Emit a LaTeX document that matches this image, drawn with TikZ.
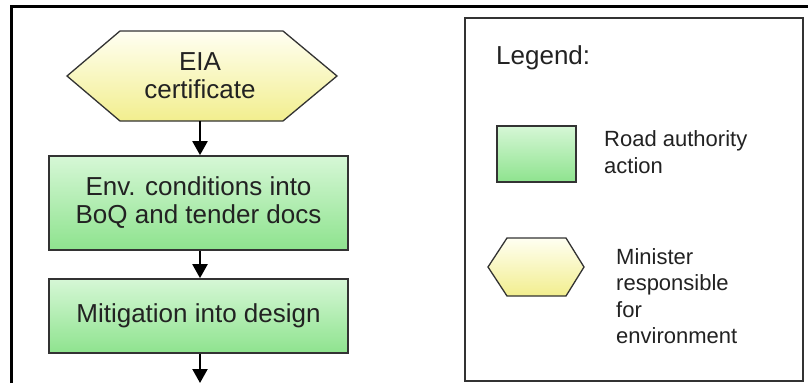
\documentclass[tikz,border=0pt]{standalone}
\usepackage{fontspec}
\setmainfont{Liberation Sans}
\usetikzlibrary{arrows.meta,calc}
\definecolor{txt}{HTML}{222222}
\definecolor{gtop}{HTML}{D6F7D6}
\definecolor{gbot}{HTML}{8EE38E}
\definecolor{ytop}{HTML}{FFFFF2}
\definecolor{ybot}{HTML}{F2EE8E}
\definecolor{edge}{HTML}{333333}
\tikzset{
  actbox/.style={draw=edge, line width=1.7pt, top color=gtop, bottom color=gbot, inner sep=0pt, text=txt, align=center, font=\fontsize{26}{28}\selectfont},
  hexfill/.style={draw=edge, line width=1.3pt, top color=ytop, bottom color=ybot},
  flow/.style={line width=2.2pt, -{Triangle[length=14pt,width=15pt]}},
  ltext/.style={inner sep=0pt, anchor=west, align=left, text=txt, font=\fontsize{22}{26.5}\selectfont},
}
\begin{document}
\begin{tikzpicture}[x=1pt,y=-1pt]
\useasboundingbox (0,0) rectangle (808,383);
\fill[white] (0,0) rectangle (808,383);
% frame
\draw[line width=3pt] (11,383) -- (11,6) -- (808,6);
% flow
\shade[hexfill] (67,76) -- (120,31) -- (283,31) -- (337,76) -- (283,121) -- (120,121) -- cycle;
\node[inner sep=0pt, minimum width=270pt, minimum height=90pt, align=center, text=txt, font=\fontsize{26}{28}\selectfont] (eia) at (200,76) {EIA\\certificate};
\node[actbox, minimum width=299pt, minimum height=94pt] (b1) at (198.5,203) {Env. conditions into\\BoQ and tender docs};
\node[actbox, minimum width=299pt, minimum height=74pt] (b2) at (198.5,316) {Mitigation into design};
\coordinate (out) at (200,383);
\draw[flow] (eia.south) -- (eia.south |- b1.north);
\draw[flow] (eia.south |- b1.south) -- (eia.south |- b2.north);
\draw[flow] (eia.south |- b2.south) -- (out);
% legend
\node[draw=edge, line width=1.5pt, minimum width=338pt, minimum height=363pt, inner sep=0pt] (leg) at (634,199.5) {};
\node[inner sep=0pt, anchor=west, text=txt, font=\fontsize{26}{28}\selectfont] (legt) at (496,58) {Legend:};
\node[actbox, minimum width=79pt, minimum height=56pt] (lg) at (536.5,154) {};
\node[ltext] (lgt) at (604,152) {Road authority\\action};
\shade[hexfill] (488,267) -- (507,238) -- (566,238) -- (584,267) -- (566,296) -- (507,296) -- cycle;
\node[ltext] (lyt) at (616,296) {Minister\\responsible\\for\\environment};
\end{tikzpicture}
\end{document}
